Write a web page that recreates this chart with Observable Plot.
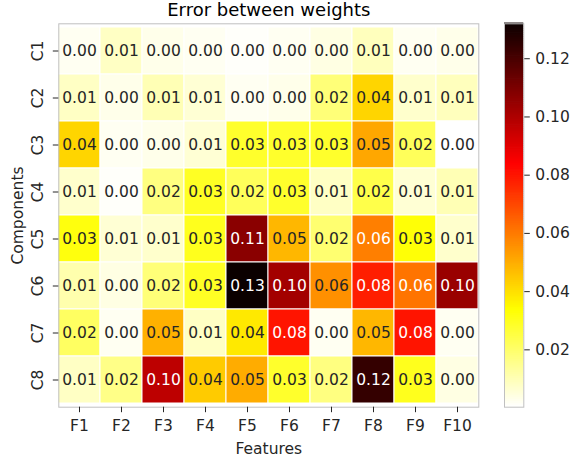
<!DOCTYPE html>
<html>
<head>
<meta charset="utf-8">
<script src="https://cdn.jsdelivr.net/npm/d3@7"></script>
<script src="https://cdn.jsdelivr.net/npm/@observablehq/plot@0.6"></script>
<style>
  body { margin: 0; background: white; }
  #chart { position: relative; width: 571px; height: 461px; background: white; }
  #chart svg { position: absolute; top: 0; }
</style>
</head>
<body>
<div id="chart"></div>
<script>
const components = ["C1","C2","C3","C4","C5","C6","C7","C8"];
const features = ["F1","F2","F3","F4","F5","F6","F7","F8","F9","F10"];
const rowC1 = [0.002, 0.008, 0.003, 0.002, 0.001, 0.002, 0.004, 0.009, 0.002, 0.003];
const rowC2 = [0.008, 0.003, 0.010, 0.006, 0.002, 0.003, 0.018, 0.042, 0.007, 0.009];
const rowC3 = [0.042, 0.002, 0.003, 0.006, 0.028, 0.028, 0.028, 0.051, 0.022, 0.0003];
const rowC4 = [0.007, 0.001, 0.017, 0.029, 0.022, 0.028, 0.008, 0.024, 0.006, 0.010];
const rowC5 = [0.032, 0.006, 0.007, 0.030, 0.107, 0.048, 0.019, 0.059, 0.033, 0.007];
const rowC6 = [0.011, 0.004, 0.018, 0.029, 0.132, 0.102, 0.0555, 0.078, 0.061, 0.104];
const rowC7 = [0.021, 0.002, 0.049, 0.008, 0.038, 0.080, 0.002, 0.048, 0.080, 0.002];
const rowC8 = [0.008, 0.016, 0.097, 0.044, 0.050, 0.028, 0.017, 0.124, 0.030, 0.004];
const colorbarTicks = [0.02, 0.04, 0.06, 0.08, 0.10, 0.12];
const title = "Error between weights";
const xLabel = "Features";
const yLabel = "Components";

const rows = [rowC1, rowC2, rowC3, rowC4, rowC5, rowC6, rowC7, rowC8];
const data = [];
rows.forEach((r, i) => r.forEach((v, j) => data.push({c: components[i], f: features[j], v})));

const [vmin, vmax] = d3.extent(data, d => d.v);
// matplotlib "hot_r" colormap stops
const stops = [0, 1 - 0.746032, 1 - 0.365079, 1];
const cdomain = stops.map(t => vmin + t * (vmax - vmin));
const crange = ["#ffffff", "#ffff00", "#ff0000", "#0b0000"];
const colorOpts = {type: "linear", domain: cdomain, range: crange, interpolate: "rgb"};
const hot = d3.scaleLinear().domain(cdomain).range(crange).interpolate(d3.interpolateRgb).clamp(true);

function lum(col) {
  const c = d3.rgb(col);
  const f = x => { x /= 255; return x <= 0.03928 ? x / 12.92 : Math.pow((x + 0.055) / 1.055, 2.4); };
  return 0.2126 * f(c.r) + 0.7152 * f(c.g) + 0.0722 * f(c.b);
}
const textFill = d => lum(hot(d.v)) > 0.408 ? "#262626" : "#ffffff";
const fmt = d3.format(".2f");
const FONT = "DejaVu Sans, sans-serif";

const main = Plot.plot({
  width: 571, height: 461,
  marginLeft: 58.3, marginRight: 92.7, marginTop: 23.3, marginBottom: 54.3,
  style: {fontFamily: FONT, fontSize: "15.5px", background: "transparent", color: "#262626"},
  x: {domain: features, padding: 0},
  y: {domain: components, padding: 0},
  color: colorOpts,
  marks: [
    Plot.cell(data, {x: "f", y: "c", fill: "v", stroke: "white", strokeWidth: 1}),
    Plot.text(data, {x: "f", y: "c", text: d => fmt(d.v), fill: textFill, fontSize: 15.5}),
    Plot.frame({stroke: "#c0c0c0", strokeWidth: 1}),
    Plot.axisX({tickSize: 5.5, tickPadding: 7, fontSize: 15.5, label: xLabel, labelAnchor: "center", labelOffset: 47, labelArrow: "none", stroke: "#262626"}),
    Plot.axisY({tickSize: 5.5, tickPadding: 10, tickRotate: -90, fontSize: 15.5, label: yLabel, labelAnchor: "center", labelOffset: 47, labelArrow: "none", stroke: "#262626"}),
    Plot.text([title], {frameAnchor: "top", dy: -14, fontSize: 18, fill: "#000", lineAnchor: "middle"})
  ]
});
main.style.left = "0px";
document.getElementById("chart").appendChild(main);

// vertical colorbar
const nSlices = 200;
const slices = d3.range(nSlices).map(i => {
  const lo = vmin + (vmax - vmin) * i / nSlices;
  const hi = vmin + (vmax - vmin) * (i + 1) / nSlices;
  return {lo, hi, mid: (lo + hi) / 2};
});
const cbar = Plot.plot({
  width: 67, height: 461,
  marginLeft: 0, marginRight: 47.7, marginTop: 23.3, marginBottom: 54.3,
  style: {fontFamily: FONT, fontSize: "15.5px", background: "transparent", color: "#262626"},
  x: {domain: [0, 1], axis: null},
  y: {domain: [vmin, vmax]},
  color: colorOpts,
  marks: [
    Plot.rect(slices, {x1: 0, x2: 1, y1: "lo", y2: d => d.hi + (vmax - vmin) * 0.002, fill: "mid"}),
    Plot.frame({stroke: "#c0c0c0", strokeWidth: 1}),
    Plot.axisY({anchor: "right", ticks: colorbarTicks, tickFormat: fmt, tickSize: 5.5, tickPadding: 6, fontSize: 15.5, label: null, stroke: "#262626"})
  ]
});
cbar.style.left = "504px";
document.getElementById("chart").appendChild(cbar);
</script>
</body>
</html>
